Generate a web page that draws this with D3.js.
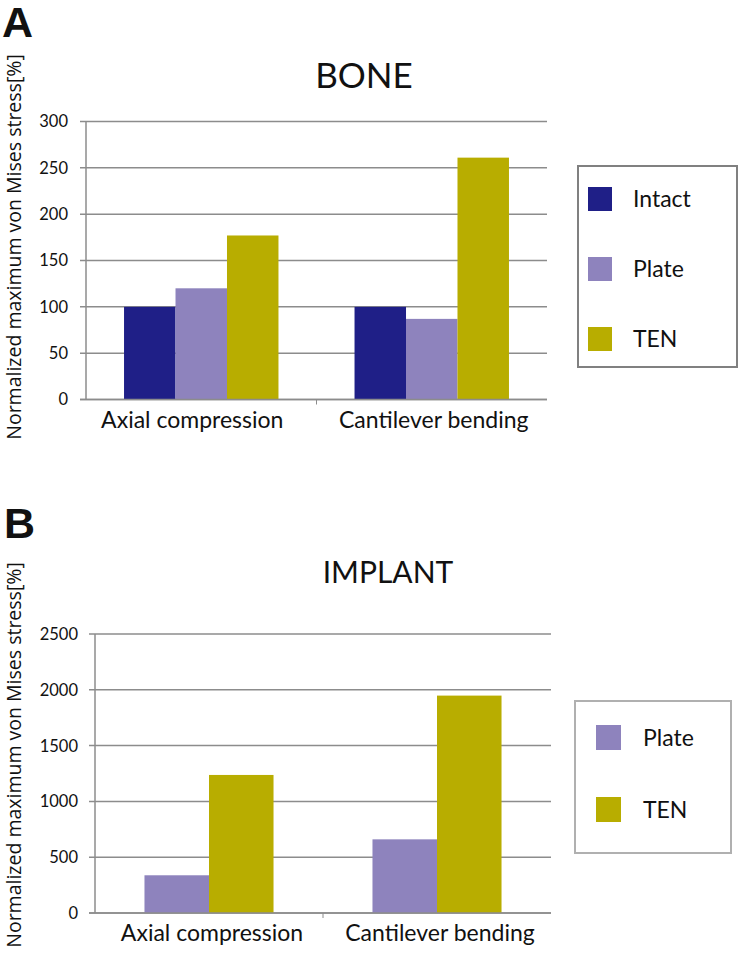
<!DOCTYPE html>
<html>
<head>
<meta charset="utf-8">
<script src="https://cdn.jsdelivr.net/npm/d3@7"></script>
<style>
  body { margin: 0; background: #fff; }
  svg text { fill: #111; }
</style>
</head>
<body>
<div id="chart"></div>
<script>
// Data
const categories = ["Axial compression", "Cantilever bending"];
const boneSeries = ["Intact", "Plate", "TEN"];
const boneIntact = [100, 100];
const bonePlate = [120, 87];
const boneTEN = [177, 261];
const boneTicks = [0, 50, 100, 150, 200, 250, 300];

const implantSeries = ["Plate", "TEN"];
const implantPlate = [338, 660];
const implantTEN = [1237, 1948];
const implantTicks = [0, 500, 1000, 1500, 2000, 2500];

const colors = { "Intact": "#1f1f87", "Plate": "#8e83bd", "TEN": "#b8ad00" };
const yTitle = "Normalized maximum von Mises stress[%]";

const width = 742, height = 955;
const svg = d3.select("#chart").append("svg")
    .attr("width", width)
    .attr("height", height);

function drawPanel(cfg) {
    const g = svg.append("g");

    // panel letter
    g.append("text")
        .attr("x", cfg.letterX).attr("y", cfg.letterY)
        .style("font-family", "'Liberation Sans', Arial, sans-serif")
        .style("font-weight", "bold")
        .style("font-size", "43px")
        .text(cfg.letter);

    // title
    g.append("text")
        .attr("x", cfg.titleX).attr("y", cfg.titleY)
        .attr("text-anchor", "middle")
        .style("font-family", "Lato, sans-serif")
        .style("font-size", cfg.titleSize + "px")
        .text(cfg.title);

    const y = d3.scaleLinear()
        .domain([0, cfg.ticks[cfg.ticks.length - 1]])
        .range([cfg.bottom, cfg.top]);

    const x0 = d3.scaleBand()
        .domain(categories)
        .range([cfg.left, cfg.right])
        .paddingInner(cfg.pad)
        .paddingOuter(cfg.pad / 2);

    const x1 = d3.scaleBand()
        .domain(cfg.series)
        .range([0, x0.bandwidth()]);

    // gridlines
    g.append("g").selectAll("line")
        .data(cfg.ticks)
        .enter().append("line")
        .attr("x1", cfg.left - 6)
        .attr("x2", cfg.right)
        .attr("y1", d => y(d))
        .attr("y2", d => y(d))
        .attr("stroke", "#8c8c8c")
        .attr("stroke-width", 1.5);

    // y axis line
    g.append("line")
        .attr("x1", cfg.left).attr("x2", cfg.left)
        .attr("y1", y(cfg.ticks[cfg.ticks.length - 1])).attr("y2", y(0))
        .attr("stroke", "#8c8c8c")
        .attr("stroke-width", 1.5);

    // tick labels
    g.append("g").selectAll("text")
        .data(cfg.ticks)
        .enter().append("text")
        .attr("x", cfg.left - cfg.labelGap)
        .attr("y", d => y(d))
        .attr("dy", "0.36em")
        .attr("text-anchor", "end")
        .style("font-family", "Lato, sans-serif")
        .style("font-size", "16.5px")
        .text(d => d);

    // bars
    const rows = categories.map((c, i) => ({ cat: c, vals: cfg.series.map((s, j) => ({ s: s, v: cfg.values[j][i] })) }));
    const groups = g.append("g").selectAll("g")
        .data(rows)
        .enter().append("g")
        .attr("transform", d => `translate(${x0(d.cat)},0)`);
    groups.selectAll("rect")
        .data(d => d.vals)
        .enter().append("rect")
        .attr("x", d => x1(d.s))
        .attr("width", x1.bandwidth())
        .attr("y", d => y(d.v))
        .attr("height", d => y(0) - y(d.v))
        .attr("fill", d => colors[d.s]);

    // x axis line + category divider tick
    g.append("line")
        .attr("x1", cfg.left - 6).attr("x2", cfg.right)
        .attr("y1", y(0)).attr("y2", y(0))
        .attr("stroke", "#8c8c8c")
        .attr("stroke-width", 1.5);
    const mid = x0(categories[1]) - x0.step() * cfg.pad / 2;
    g.append("line")
        .attr("x1", mid).attr("x2", mid)
        .attr("y1", y(0)).attr("y2", y(0) + 5)
        .attr("stroke", "#8c8c8c")
        .attr("stroke-width", 1);

    // category labels
    g.append("g").selectAll("text")
        .data(categories)
        .enter().append("text")
        .attr("x", (d, i) => x0(d) + x0.bandwidth() / 2 + cfg.labelShift[i])
        .attr("y", y(0) + 28)
        .attr("text-anchor", "middle")
        .style("font-family", "Lato, sans-serif")
        .style("font-size", "23px")
        .text(d => d);

    // y title
    g.append("text")
        .attr("transform", `translate(21,${cfg.yTitleY}) rotate(-90)`)
        .attr("text-anchor", "middle")
        .style("font-family", "'Open Sans', sans-serif")
        .style("font-size", "19.5px")
        .text(yTitle);

    // legend
    const lg = g.append("g");
    lg.append("rect")
        .attr("x", cfg.legend.x).attr("y", cfg.legend.y)
        .attr("width", cfg.legend.w).attr("height", cfg.legend.h)
        .attr("fill", "#fff")
        .attr("stroke", cfg.legend.stroke)
        .attr("stroke-width", 2);
    cfg.series.forEach((s, i) => {
        const yy = cfg.legend.firstY + i * cfg.legend.step;
        lg.append("rect")
            .attr("x", cfg.legend.swX).attr("y", yy)
            .attr("width", cfg.legend.sw).attr("height", cfg.legend.sw)
            .attr("fill", colors[s]);
        lg.append("text")
            .attr("x", cfg.legend.textX)
            .attr("y", yy + cfg.legend.sw / 2 + 8)
            .style("font-family", "Lato, sans-serif")
            .style("font-size", "23px")
            .text(s);
    });
}

drawPanel({
    letter: "A", letterX: 2, letterY: 37,
    title: "BONE", titleX: 364, titleY: 88, titleSize: 35,
    series: boneSeries, values: [boneIntact, bonePlate, boneTEN], ticks: boneTicks,
    left: 86, right: 547, top: 121.5, bottom: 399.5, pad: 0.33, labelGap: 18,
    labelShift: [-9, 2],
    yTitleY: 247,
    legend: { x: 578, y: 166, w: 159, h: 201, stroke: "#808080", swX: 588, sw: 24, firstY: 187, step: 70, textX: 633 }
});

drawPanel({
    letter: "B", letterX: 4, letterY: 538,
    title: "IMPLANT", titleX: 388, titleY: 583, titleSize: 30,
    series: implantSeries, values: [implantPlate, implantTEN], ticks: implantTicks,
    left: 95, right: 551, top: 634, bottom: 913, pad: 0.434, labelGap: 17,
    labelShift: [3, 3],
    yTitleY: 755,
    legend: { x: 575, y: 701, w: 156, h: 152, stroke: "#b0b0b0", swX: 596, sw: 25, firstY: 725, step: 72, textX: 643 }
});
</script>
</body>
</html>
